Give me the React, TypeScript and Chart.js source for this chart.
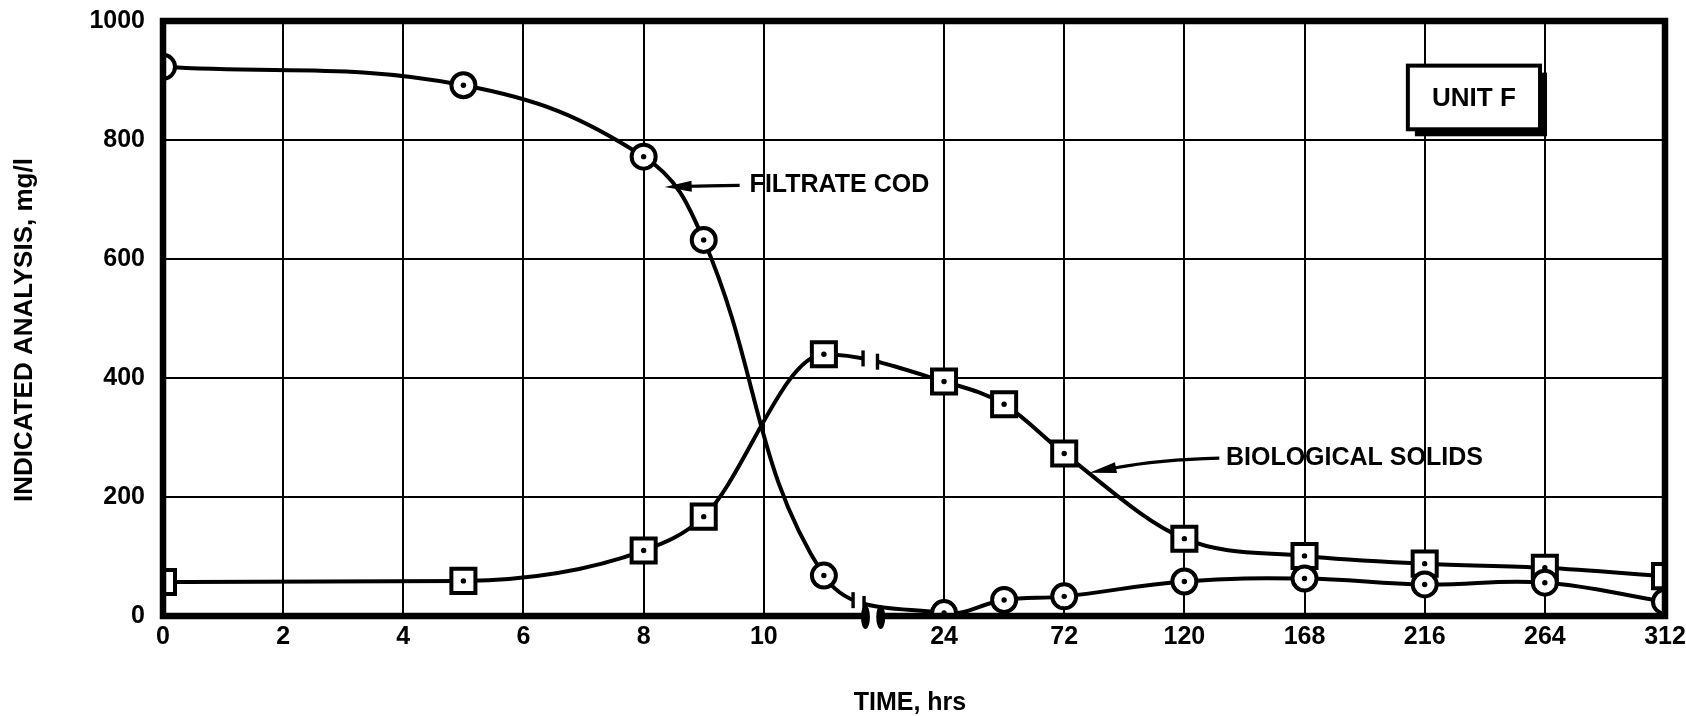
import React, { useEffect, useRef } from "react";
import { Chart, registerables } from "chart.js";

Chart.register(...registerables);

// ---- data ----
const timeHours = [0, 5, 8, 9, 11, 24, 48, 72, 120, 168, 216, 264, 312];
const filtrateCod = [923, 892, 772, 632, 68, 5, 27, 33, 58, 63, 53, 56, 24];
const biologicalSolids = [57, 59, 110, 167, 440, 394, 356, 273, 130, 101, 88, 81, 67];
const xTickHours = [0, 2, 4, 6, 8, 10, 24, 72, 120, 168, 216, 264, 312];
const xTickLabels = ["0", "2", "4", "6", "8", "10", "24", "72", "120", "168", "216", "264", "312"];
const yTicks = [0, 200, 400, 600, 800, 1000];

// broken time axis: 0-10 h at 2 h per division, then 24..312 h at 48 h per division
function hoursToAxis(h: number): number {
  return h <= 12 ? h / 2 : 6.5 + (h - 24) / 48;
}
const AXIS_MAX = hoursToAxis(312);

// break positions (axis units)
const codBreak = [5.743, 5.834];
const solidsBreak = [5.826, 5.946];
const axisBreak = [5.846, 5.973];

// annotations (axis units / data values)
const codLabel = { text: "FILTRATE COD", u: 4.882, v: 725 };
const codArrow = { tail: [4.799, 723.7], ctrl: [4.5, 723], tip: [4.175, 721] };
const solidsLabel = { text: "BIOLOGICAL SOLIDS", u: 8.846, v: 266 };
const solidsArrow = { tail: [8.791, 265.4], ctrl: [8.29, 263], tip: [7.71, 240.9] };
const unitBox = { text: "UNIT F", u1: 10.36, u2: 11.46, v1: 925, v2: 818 };

const FONT = '"Liberation Sans", Arial, sans-serif';

function bezierYAt(meta: any, targetX: number): number | null {
  const pts = meta.data;
  for (let i = 0; i < pts.length - 1; i++) {
    const a = pts[i];
    const b = pts[i + 1];
    if (targetX >= a.x && targetX <= b.x) {
      const p0x = a.x, p1x = a.cp2x ?? a.x, p2x = b.cp1x ?? b.x, p3x = b.x;
      const p0y = a.y, p1y = a.cp2y ?? a.y, p2y = b.cp1y ?? b.y, p3y = b.y;
      const bx = (t: number) =>
        (1 - t) ** 3 * p0x + 3 * (1 - t) ** 2 * t * p1x + 3 * (1 - t) * t * t * p2x + t ** 3 * p3x;
      let lo = 0, hi = 1;
      for (let k = 0; k < 50; k++) {
        const mid = (lo + hi) / 2;
        if (bx(mid) < targetX) lo = mid;
        else hi = mid;
      }
      const t = (lo + hi) / 2;
      return (1 - t) ** 3 * p0y + 3 * (1 - t) ** 2 * t * p1y + 3 * (1 - t) * t * t * p2y + t ** 3 * p3y;
    }
  }
  return null;
}

const gaps = [codBreak, solidsBreak];

const decorPlugin = {
  id: "decor",
  beforeDatasetDraw(chart: any, args: any) {
    const ctx = chart.ctx;
    const xs = chart.scales.x;
    const g = gaps[args.index];
    const x1 = xs.getPixelForValue(g[0]);
    const x2 = xs.getPixelForValue(g[1]);
    ctx.save();
    ctx.beginPath();
    ctx.rect(0, 0, chart.width, chart.height);
    ctx.rect(x1, 0, x2 - x1, chart.height);
    ctx.clip("evenodd");
  },
  afterDatasetDraw(chart: any, args: any) {
    const ctx = chart.ctx;
    const meta = args.meta;
    ctx.fillStyle = "#000";
    for (const p of meta.data) {
      ctx.beginPath();
      ctx.arc(p.x, p.y, 2.7, 0, Math.PI * 2);
      ctx.fill();
    }
    ctx.restore();
    // break ticks on the line
    const xs = chart.scales.x;
    const g = gaps[args.index];
    ctx.save();
    ctx.strokeStyle = "#000";
    ctx.lineWidth = 3.4;
    for (const u of g) {
      const px = xs.getPixelForValue(u);
      const py = bezierYAt(meta, px);
      if (py == null) continue;
      ctx.beginPath();
      ctx.moveTo(px, py - 8);
      ctx.lineTo(px, py + 8);
      ctx.stroke();
    }
    ctx.restore();
  },
  afterDraw(chart: any) {
    const ctx = chart.ctx;
    const xs = chart.scales.x;
    const ys = chart.scales.y;
    const { left, right, top, bottom } = chart.chartArea;
    const X = (u: number) => xs.getPixelForValue(u);
    const Y = (v: number) => ys.getPixelForValue(v);
    ctx.save();
    // frame
    ctx.strokeStyle = "#000";
    ctx.lineWidth = 6.5;
    ctx.strokeRect(left, top, right - left, bottom - top);

    // axis break
    const b1 = X(axisBreak[0]);
    const b2 = X(axisBreak[1]);
    ctx.fillStyle = "#fff";
    ctx.fillRect(b1 + 3, bottom - 6, b2 - b1 - 6, 12);
    ctx.fillStyle = "#000";
    for (const bx of [b1, b2]) {
      ctx.beginPath();
      ctx.ellipse(bx, bottom + 1, 4.5, 12, 0, 0, Math.PI * 2);
      ctx.fill();
    }

    // arrows
    const drawArrow = (a: any) => {
      const tx = X(a.tail[0]), ty = Y(a.tail[1]);
      const cx = X(a.ctrl[0]), cy = Y(a.ctrl[1]);
      const px = X(a.tip[0]), py = Y(a.tip[1]);
      const ang = Math.atan2(py - cy, px - cx);
      const len = 27, hw = 5.5;
      const bx = px - len * Math.cos(ang), by = py - len * Math.sin(ang);
      ctx.strokeStyle = "#000";
      ctx.lineWidth = 3.2;
      ctx.beginPath();
      ctx.moveTo(tx, ty);
      ctx.quadraticCurveTo(cx, cy, bx + 2 * Math.cos(ang), by + 2 * Math.sin(ang));
      ctx.stroke();
      ctx.fillStyle = "#000";
      ctx.beginPath();
      ctx.moveTo(px, py);
      ctx.lineTo(bx - hw * Math.sin(ang), by + hw * Math.cos(ang));
      ctx.lineTo(bx + hw * Math.sin(ang), by - hw * Math.cos(ang));
      ctx.closePath();
      ctx.fill();
    };
    drawArrow(codArrow);
    drawArrow(solidsArrow);

    ctx.fillStyle = "#000";
    ctx.font = `bold 25px ${FONT}`;
    ctx.textBaseline = "middle";
    ctx.textAlign = "left";
    ctx.fillText(codLabel.text, X(codLabel.u), Y(codLabel.v));
    ctx.fillText(solidsLabel.text, X(solidsLabel.u), Y(solidsLabel.v));

    // UNIT F box with shadow
    const ux1 = X(unitBox.u1), ux2 = X(unitBox.u2);
    const uy1 = Y(unitBox.v1), uy2 = Y(unitBox.v2);
    ctx.fillStyle = "#000";
    ctx.fillRect(ux1 + 7, uy1 + 7, ux2 - ux1, uy2 - uy1);
    ctx.fillStyle = "#fff";
    ctx.fillRect(ux1, uy1, ux2 - ux1, uy2 - uy1);
    ctx.strokeStyle = "#000";
    ctx.lineWidth = 4;
    ctx.strokeRect(ux1, uy1, ux2 - ux1, uy2 - uy1);
    ctx.fillStyle = "#000";
    ctx.font = `bold 26px ${FONT}`;
    ctx.textAlign = "center";
    ctx.fillText(unitBox.text, (ux1 + ux2) / 2, (uy1 + uy2) / 2 + 1);

    // axis titles
    ctx.font = `bold 25px ${FONT}`;
    ctx.textAlign = "center";
    ctx.fillText("TIME, hrs", 910, 703);
    ctx.font = `bold 26px ${FONT}`;
    ctx.translate(25, 330);
    ctx.rotate(-Math.PI / 2);
    ctx.fillText("INDICATED ANALYSIS, mg/l", 0, 0);
    ctx.restore();
  },
};

export default function App() {
  const ref = useRef<HTMLCanvasElement>(null);
  useEffect(() => {
    if (!ref.current) return;
    const tickFont = { family: FONT, size: 25, weight: "bold" as const };
    const chart = new Chart(ref.current, {
      type: "line",
      data: {
        datasets: [
          {
            label: "FILTRATE COD",
            data: timeHours.map((h, i) => ({ x: hoursToAxis(h), y: filtrateCod[i] })),
            borderColor: "#000",
            borderWidth: 4,
            tension: 0.4,
            pointStyle: "circle",
            pointRadius: 12,
            pointBorderWidth: 4,
            pointBackgroundColor: "#fff",
            pointBorderColor: "#000",
            clip: 0,
          },
          {
            label: "BIOLOGICAL SOLIDS",
            data: timeHours.map((h, i) => ({ x: hoursToAxis(h), y: biologicalSolids[i] })),
            borderColor: "#000",
            borderWidth: 4,
            cubicInterpolationMode: "monotone",
            pointStyle: "rect",
            pointRadius: 17,
            pointBorderWidth: 4,
            pointBackgroundColor: "#fff",
            pointBorderColor: "#000",
            clip: 0,
          },
        ],
      },
      options: {
        responsive: false,
        animation: false,
        events: [],
        layout: { padding: { left: 0, top: 17, right: 20, bottom: 0 } },
        plugins: { legend: { display: false }, tooltip: { enabled: false } },
        scales: {
          x: {
            type: "linear",
            min: 0,
            max: AXIS_MAX,
            afterBuildTicks: (scale: any) => {
              scale.ticks = xTickHours.map((h) => ({ value: hoursToAxis(h) }));
            },
            afterFit: (scale: any) => {
              scale.height = 100;
              scale.paddingLeft = 0;
              scale.paddingRight = 0;
              scale.paddingTop = 0;
              scale.paddingBottom = 0;
            },
            grid: { color: "#000", lineWidth: 2, drawTicks: false },
            border: { display: false },
            ticks: {
              autoSkip: false,
              maxRotation: 0,
              padding: 6,
              color: "#000",
              font: tickFont,
              callback: (_v: any, i: number) => xTickLabels[i],
            },
          },
          y: {
            type: "linear",
            min: 0,
            max: 1000,
            afterBuildTicks: (scale: any) => {
              scale.ticks = yTicks.map((v) => ({ value: v }));
            },
            afterFit: (scale: any) => {
              scale.width = 163;
              scale.paddingLeft = 0;
              scale.paddingRight = 0;
              scale.paddingTop = 0;
              scale.paddingBottom = 0;
            },
            grid: { color: "#000", lineWidth: 2, drawTicks: false },
            border: { display: false },
            ticks: {
              padding: 18,
              color: "#000",
              font: tickFont,
              callback: (v: any) => String(v),
            },
          },
        },
      },
      plugins: [decorPlugin],
    });
    return () => chart.destroy();
  }, []);
  return (
    <div style={{ position: "absolute", left: 0, top: 0, width: 1686, height: 716, background: "#fff" }}>
      <canvas ref={ref} width={1686} height={716} style={{ display: "block" }} />
    </div>
  );
}
